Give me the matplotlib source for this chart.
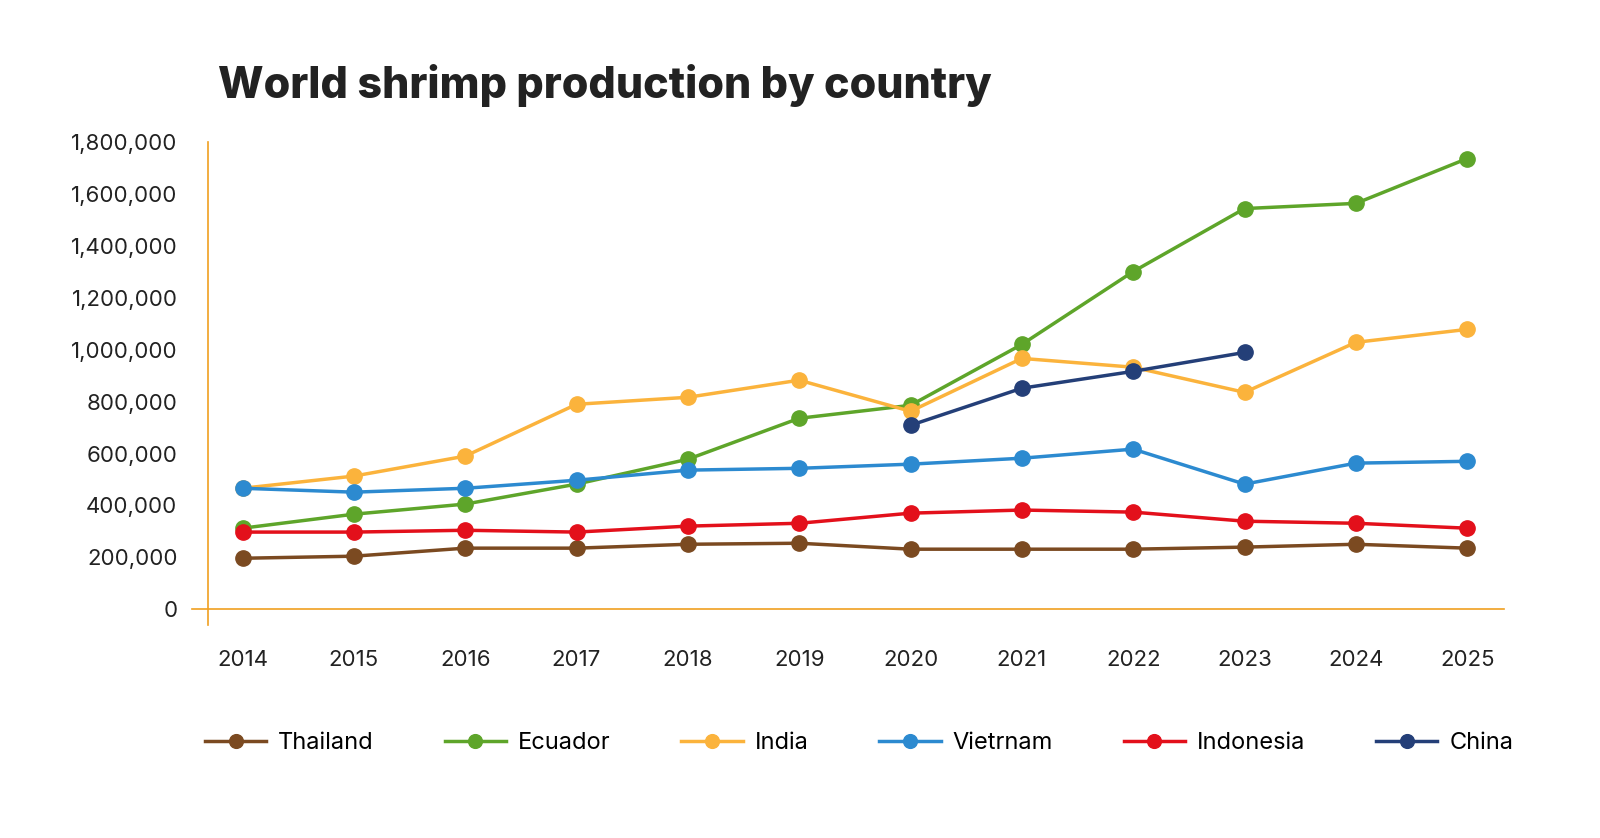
import numpy as np
import matplotlib.pyplot as plt
from matplotlib.ticker import FuncFormatter

years = list(range(2014, 2026))
thailand = [196000, 204000, 235000, 235000, 250000, 254000, 231000, 231000, 231000, 239000, 250000, 235000]
ecuador = [312000, 366000, 405000, 482000, 578000, 736000, 786000, 1021000, 1302000, 1545000, 1565000, 1738000]
india = [466000, 513000, 590000, 790000, 817000, 883000, 763000, 967000, 933000, 836000, 1029000, 1079000]
vietnam = [466000, 451000, 466000, 497000, 536000, 543000, 559000, 582000, 617000, 482000, 563000, 570000]
indonesia = [297000, 297000, 304000, 297000, 320000, 331000, 370000, 382000, 374000, 339000, 331000, 312000]
china_years = [2020, 2021, 2022, 2023]
china = [709000, 852000, 917000, 990000]

plt.rcParams['font.family'] = ['Inter', 'DejaVu Sans']

fig = plt.figure(figsize=(16, 8.38), dpi=100)
ax = fig.add_axes([0.13, 0.254, 0.81, 0.576])

series = [
    ("Thailand", years, thailand, "#7b4a21"),
    ("Ecuador", years, ecuador, "#5ea52a"),
    ("India", years, india, "#fbb33c"),
    ("Vietrnam", years, vietnam, "#2c8ad0"),
    ("Indonesia", years, indonesia, "#e3101b"),
    ("China", china_years, china, "#243f78"),
]
for name, xs, ys, c in series:
    ax.plot(xs, ys, color=c, lw=2.5, marker='o', ms=11, label=name)

ax.set_xlim(2013.69, 2025.33)
ax.set_ylim(-62000, 1800000)
ax.set_xticks(years)
ax.set_yticks(range(0, 1800001, 200000))
ax.yaxis.set_major_formatter(FuncFormatter(lambda v, p: f"{int(v):,}"))
ax.tick_params(length=0, labelsize=16, colors='#222222')
ax.tick_params(axis='x', pad=18)
ax.tick_params(axis='y', pad=22)
for s in ['top', 'right', 'bottom']:
    ax.spines[s].set_visible(False)
ax.spines['left'].set_color('#f0a020')
ax.spines['left'].set_linewidth(1.2)
ax.axhline(0, color='#f0a020', lw=1.2, xmin=-0.012, clip_on=False)

fig.text(0.136, 0.898, "World shrimp production by country", fontsize=31,
         fontweight='heavy', color='#222222', va='center')

fig.legend(loc='center', bbox_to_anchor=(0.537, 0.113), ncol=6, frameon=False,
           fontsize=17, handlelength=2.6, handletextpad=0.5, columnspacing=3.0,
           markerscale=0.9)

fig.savefig("out.png", dpi=100)
